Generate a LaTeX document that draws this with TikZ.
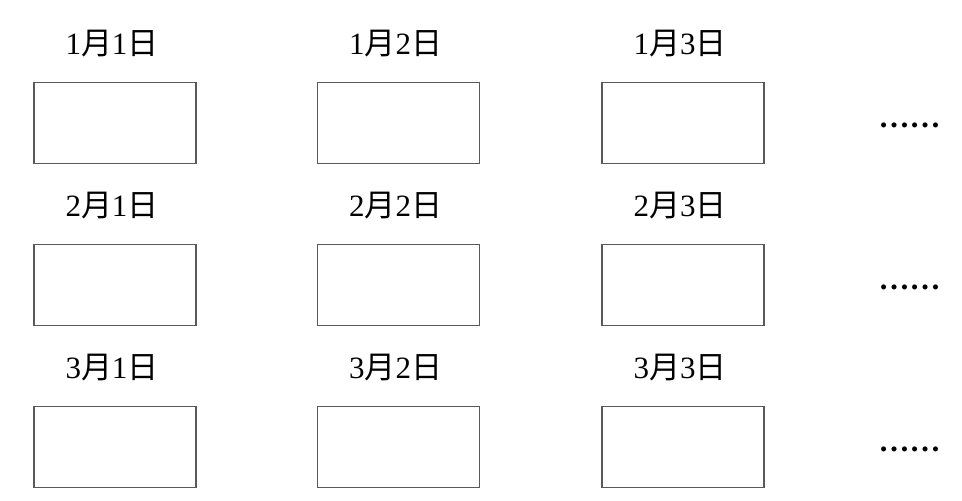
\documentclass[tikz,border=0pt]{standalone}
\usepackage{fontspec}
\setmainfont{Liberation Serif}
\newfontfamily\cjk{Noto Sans CJK SC}
\begin{document}
\begin{tikzpicture}[x=1pt,y=-1pt,
  cell/.style={draw=black!65,line width=1.2pt,minimum width=162pt,minimum height=81pt,inner sep=0pt},
  datelabel/.style={anchor=base,font=\fontsize{31}{31}\selectfont,inner sep=0pt},
  more/.style={anchor=base,font=\bfseries\fontsize{31}{31}\selectfont,inner sep=0pt}]
\useasboundingbox (0,0) rectangle (962,501);
\foreach \r/\y in {1/123,2/285,3/447}{
  \foreach \c/\x in {1/115,2/398.5,3/683}{
    \node[cell] (b\r\c) at (\x,\y) {};
    \node[datelabel] (l\r\c) at (\x-3,\y-69) {\r{\cjk 月}\c{\cjk 日}};
  }
  \node[more] (m\r) at (909.5,\y+4) {……};
}
\end{tikzpicture}
\end{document}
